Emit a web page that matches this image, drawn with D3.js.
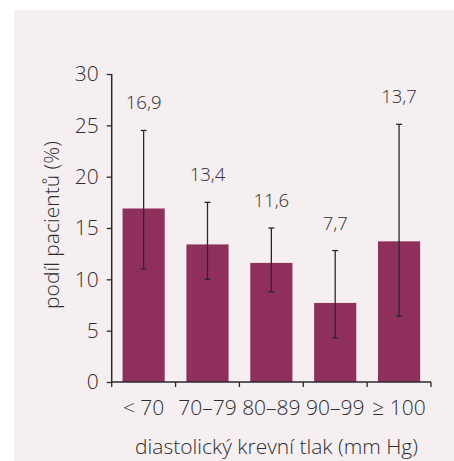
<!DOCTYPE html>
<html><head><meta charset="utf-8">
<script src="https://cdn.jsdelivr.net/npm/d3@7"></script>
<style>
html,body{margin:0;padding:0;background:#fff;}
svg text{font-family:"Open Sans","Noto Sans",sans-serif;font-weight:300;fill:#2e2e2e;}
</style></head>
<body><svg id="c" width="454" height="461"></svg>
<script>
const categories = ["< 70", "70–79", "80–89", "90–99", "≥ 100"];
const values = [16.9, 13.4, 11.6, 7.7, 13.7];
const errLow = [11.0, 10.0, 8.8, 4.3, 6.4];
const errHigh = [24.5, 17.5, 15.0, 12.8, 25.1];
const valueLabels = ["16,9", "13,4", "11,6", "7,7", "13,7"];
const yTicks = [0, 5, 10, 15, 20, 25, 30];
const xTitle = "diastolický krevní tlak (mm Hg)";
const yTitle = "podíl pacientů (%)";

const svg = d3.select("#c");
svg.append("rect").attr("x", 14).attr("y", 10).attr("width", 440).attr("height", 451).attr("fill", "#f5eff1");

const m = {left: 111.7, right: 431, top: 74, bottom: 382};
const x = d3.scaleBand().domain(categories).range([m.left, m.right]).paddingInner(0.34).paddingOuter(0.17);
const y = d3.scaleLinear().domain([0, 30]).range([m.bottom, m.top]);

const g = svg.append("g");
g.selectAll("rect.bar").data(values).join("rect").attr("class", "bar")
  .attr("x", (d, i) => x(categories[i])).attr("width", x.bandwidth())
  .attr("y", d => y(d)).attr("height", d => y(0) - y(d)).attr("fill", "#8f2f5c");

const eb = g.selectAll("g.eb").data(values).join("g").attr("class", "eb")
  .attr("transform", (d, i) => `translate(${x(categories[i]) + x.bandwidth() / 2},0)`);
eb.append("line").attr("y1", (d, i) => y(errLow[i])).attr("y2", (d, i) => y(errHigh[i]))
  .attr("stroke", "#2a2a2a").attr("stroke-width", 1.3);
eb.append("line").attr("x1", -3).attr("x2", 3).attr("y1", (d, i) => y(errHigh[i])).attr("y2", (d, i) => y(errHigh[i]))
  .attr("stroke", "#2a2a2a").attr("stroke-width", 1.3);
eb.append("line").attr("x1", -3).attr("x2", 3).attr("y1", (d, i) => y(errLow[i])).attr("y2", (d, i) => y(errLow[i]))
  .attr("stroke", "#2a2a2a").attr("stroke-width", 1.3);
eb.append("text").attr("text-anchor", "middle").attr("font-size", 18.5)
  .attr("y", (d, i) => y(errHigh[i]) - 21).text((d, i) => valueLabels[i]);

// y axis
const ya = svg.append("g").attr("transform", `translate(${m.left},0)`)
  .call(d3.axisLeft(y).tickValues(yTicks).tickSize(5).tickPadding(8).tickFormat(d3.format("d")));
ya.select(".domain").attr("stroke", "#2a2a2a").attr("stroke-width", 1.5).attr("d", `M0,${m.top}V${m.bottom}`);
ya.selectAll(".tick line").attr("stroke", "#2a2a2a").attr("stroke-width", 1.3);
ya.selectAll(".tick text").attr("font-size", 21).attr("fill", "#2e2e2e").attr("font-family", null);

// x axis
const xa = svg.append("g").attr("transform", `translate(0,${m.bottom})`)
  .call(d3.axisBottom(x).tickSize(0).tickPadding(18));
xa.select(".domain").attr("stroke", "#2a2a2a").attr("stroke-width", 1.5).attr("d", `M${m.left},0H${m.right}`);
xa.selectAll(".tick text").attr("font-size", 21).attr("fill", "#2e2e2e").attr("font-family", null).attr("dy", "0.71em");
const step = x.step();
const bounds = d3.range(categories.length + 1).map(i => x(categories[0]) - x.step() * x.paddingOuter() + i * step);
xa.selectAll("line.bt").data(bounds).join("line").attr("class", "bt")
  .attr("x1", d => d).attr("x2", d => d).attr("y1", 0).attr("y2", 5).attr("stroke", "#2a2a2a").attr("stroke-width", 1.3);

svg.append("text").attr("x", 276.5).attr("y", 454).attr("text-anchor", "middle").attr("font-size", 21).text(xTitle);
svg.append("text").attr("transform", "translate(59,225) rotate(-90)").attr("text-anchor", "middle").attr("font-size", 21).text(yTitle);
</script></body></html>
